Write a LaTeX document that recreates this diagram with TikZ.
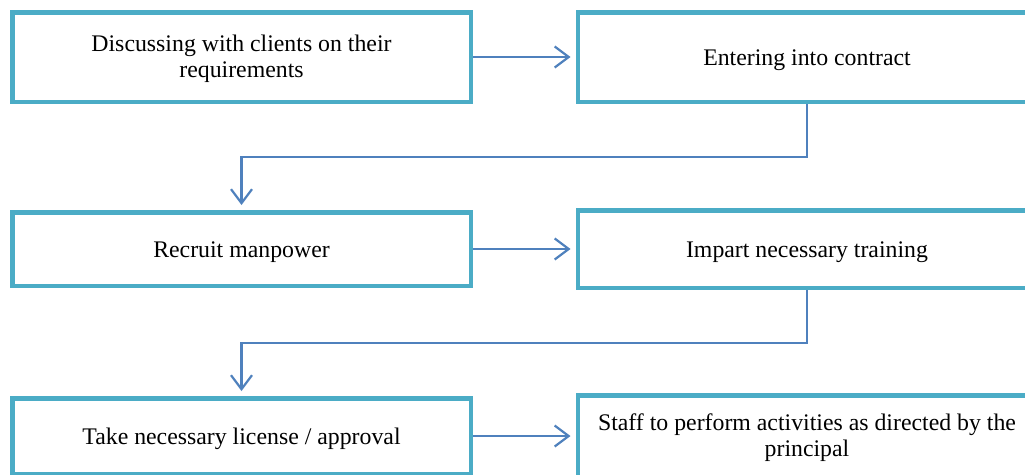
\documentclass[tikz,border=0pt]{standalone}
\usepackage{fontspec}
\setmainfont{Liberation Serif}
\usetikzlibrary{arrows.meta}
\definecolor{boxline}{RGB}{75,172,198}
\definecolor{flowline}{RGB}{79,129,189}
% two centred lines on a fixed pitch, with extra room on top to sit a little lower
\newcommand{\twolines}[2]{\raisebox{0pt}[\dimexpr\height+5pt\relax][\depth]{\begin{tabular}{@{}c@{}}#1\\#2\end{tabular}}}
\begin{document}
\begin{tikzpicture}[x=1pt,y=-1pt,
  stepbox/.style={draw=boxline, line width=4.5pt, fill=white,
    minimum width=458.5pt, inner sep=2pt,
    font=\fontsize{23.8}{26}\selectfont},
  oneline/.style={stepbox, text height=19pt, text depth=2pt},
  flow/.style={draw=flowline, line width=2.2pt,
    -{Straight Barb[length=14pt,width=21pt,line width=2.2pt]}, shorten >=5pt}]
  \clip (0,0) rectangle (1025,474);
  \fill[white] (0,0) rectangle (1025,474);

  % first row
  \node[stepbox, minimum height=89.5pt] (discuss) at (241.5,57)
    {\twolines{Discussing with clients on their}{requirements}};
  \node[oneline, minimum height=89.5pt] (contract) at (807,57)
    {Entering into contract};

  % second row
  \node[oneline, minimum height=73.5pt] (recruit) at (241.5,249)
    {Recruit manpower};
  \node[oneline, minimum height=77.5pt] (training) at (807,249)
    {Impart necessary training};

  % third row
  \node[oneline, minimum height=75.5pt] (license) at (241.5,436)
    {Take necessary license / approval};
  \node[stepbox, minimum height=81.5pt] (staff) at (807,436)
    {\twolines{Staff to perform activities as directed by the}{principal}};

  % connectors
  \draw[flow] (discuss.east) -- (contract.west);
  \draw[flow] (recruit.east) -- (training.west);
  \draw[flow] (license.east) -- (staff.west);
  \draw[flow] (contract.south) -- ++(0,53) -| (recruit.north);
  \draw[flow] (training.south) -- ++(0,53) -| (license.north);
\end{tikzpicture}
\end{document}
